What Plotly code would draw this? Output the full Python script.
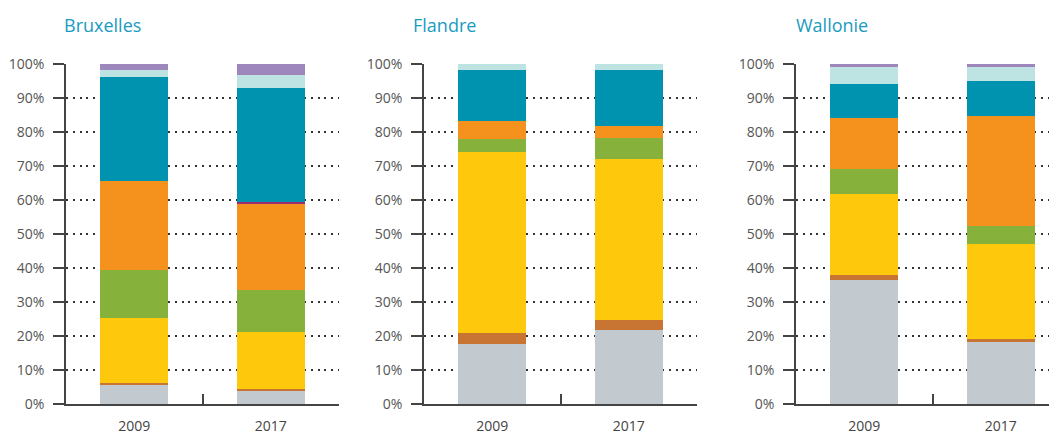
import plotly.graph_objects as go

regions = ["Bruxelles", "Flandre", "Wallonie"]
years = ["2009", "2017"]
y_ticks = list(range(0, 101, 10))
y_tick_labels = [f"{v}%" for v in y_ticks]

# segment heights (%), order: Bruxelles 2009, 2017, Flandre 2009, 2017, Wallonie 2009, 2017
s_grey    = [5.8, 4.0, 17.7, 21.8, 36.6, 18.1]
s_brown   = [0.5, 0.3, 3.2, 3.0, 1.2, 0.9]
s_yellow  = [19.1, 16.8, 53.1, 47.2, 23.9, 28.0]
s_green   = [14.1, 12.5, 3.8, 6.2, 7.3, 5.3]
s_orange  = [26.2, 25.1, 5.4, 3.7, 15.1, 32.4]
s_magenta = [0.0, 0.6, 0.0, 0.0, 0.0, 0.0]
s_teal    = [30.5, 33.7, 15.0, 16.3, 10.1, 10.3]
s_cyan    = [2.0, 3.9, 1.8, 1.8, 5.0, 4.1]
s_purple  = [1.7, 3.1, 0.0, 0.0, 0.8, 0.9]

series = [
    ("Série 1", s_grey, "#c3cacf"),
    ("Série 2", s_brown, "#c87533"),
    ("Série 3", s_yellow, "#fec90c"),
    ("Série 4", s_green, "#86b23c"),
    ("Série 5", s_orange, "#f5921e"),
    ("Série 6", s_magenta, "#9b2d6e"),
    ("Série 7", s_teal, "#0093b0"),
    ("Série 8", s_cyan, "#bde3e3"),
    ("Série 9", s_purple, "#9d87bd"),
]

W, H = 1057, 434
OFF = 8  # page body margin offset
TOP, BOT = 64 - OFF, 404 - OFF
domains = [((66 - OFF) / W, (339 - OFF) / W),
           ((424 - OFF) / W, (697 - OFF) / W),
           ((796 - OFF) / W, (1057 - OFF) / W)]
xranges = [[-0.5, 1.5], [-0.5, 1.5], [-0.5, 1.5 - 12 / 136.5]]
title_x = [62 - OFF, 411 - OFF, 794 - OFF]
title_y = 25 - OFF

fig = go.Figure()
for r, reg in enumerate(regions):
    xa = "x" if r == 0 else f"x{r+1}"
    ya = "y" if r == 0 else f"y{r+1}"
    for name, vals, col in series:
        fig.add_trace(go.Bar(
            x=years, y=vals[2 * r:2 * r + 2], name=name,
            marker=dict(color=col, line=dict(width=0)),
            width=0.5, xaxis=xa, yaxis=ya, showlegend=False,
            hovertemplate="%{y:.1f}%<extra>" + name + "</extra>",
        ))

layout = dict(
    width=W, height=H, barmode="stack",
    margin=dict(l=0, r=0, t=TOP, b=H - BOT, autoexpand=False),
    paper_bgcolor="white", plot_bgcolor="white",
    font=dict(family="Open Sans, Noto Sans, sans-serif", color="#555555", size=13),
    showlegend=False,
)
for r in range(3):
    sx = "xaxis" if r == 0 else f"xaxis{r+1}"
    sy = "yaxis" if r == 0 else f"yaxis{r+1}"
    layout[sx] = dict(
        domain=list(domains[r]), anchor="y" if r == 0 else f"y{r+1}",
        type="category", range=xranges[r],
        showline=True, linecolor="#444444", linewidth=1.5,
        ticks="inside", tickson="boundaries", ticklen=10, tickcolor="#444444", tickwidth=1.5,
        showgrid=False, ticklabelstandoff=8, automargin=False,
        tickfont=dict(size=14, color="#444444"),
    )
    layout[sy] = dict(
        anchor="x" if r == 0 else f"x{r+1}",
        range=[0, 100], tickmode="array", tickvals=y_ticks, ticktext=y_tick_labels,
        showline=True, linecolor="#444444", linewidth=1.5,
        ticks="outside", ticklen=11, tickcolor="#444444", tickwidth=1.5,
        showgrid=True, gridcolor="#333333", gridwidth=1.5, griddash="2px,4.8px",
        zeroline=False, tickfont=dict(size=14, color="#555555"),
        ticklabelstandoff=6, automargin=False,
    )
fig.update_layout(**layout)

plot_h = BOT - TOP
for r, reg in enumerate(regions):
    fig.add_annotation(
        text=reg, xref="paper", yref="paper",
        x=title_x[r] / W, y=1 + (TOP - title_y) / plot_h, xanchor="left", yanchor="middle",
        showarrow=False, font=dict(size=18, color="#1a9bc0"),
    )

fig.write_html("out.html")
